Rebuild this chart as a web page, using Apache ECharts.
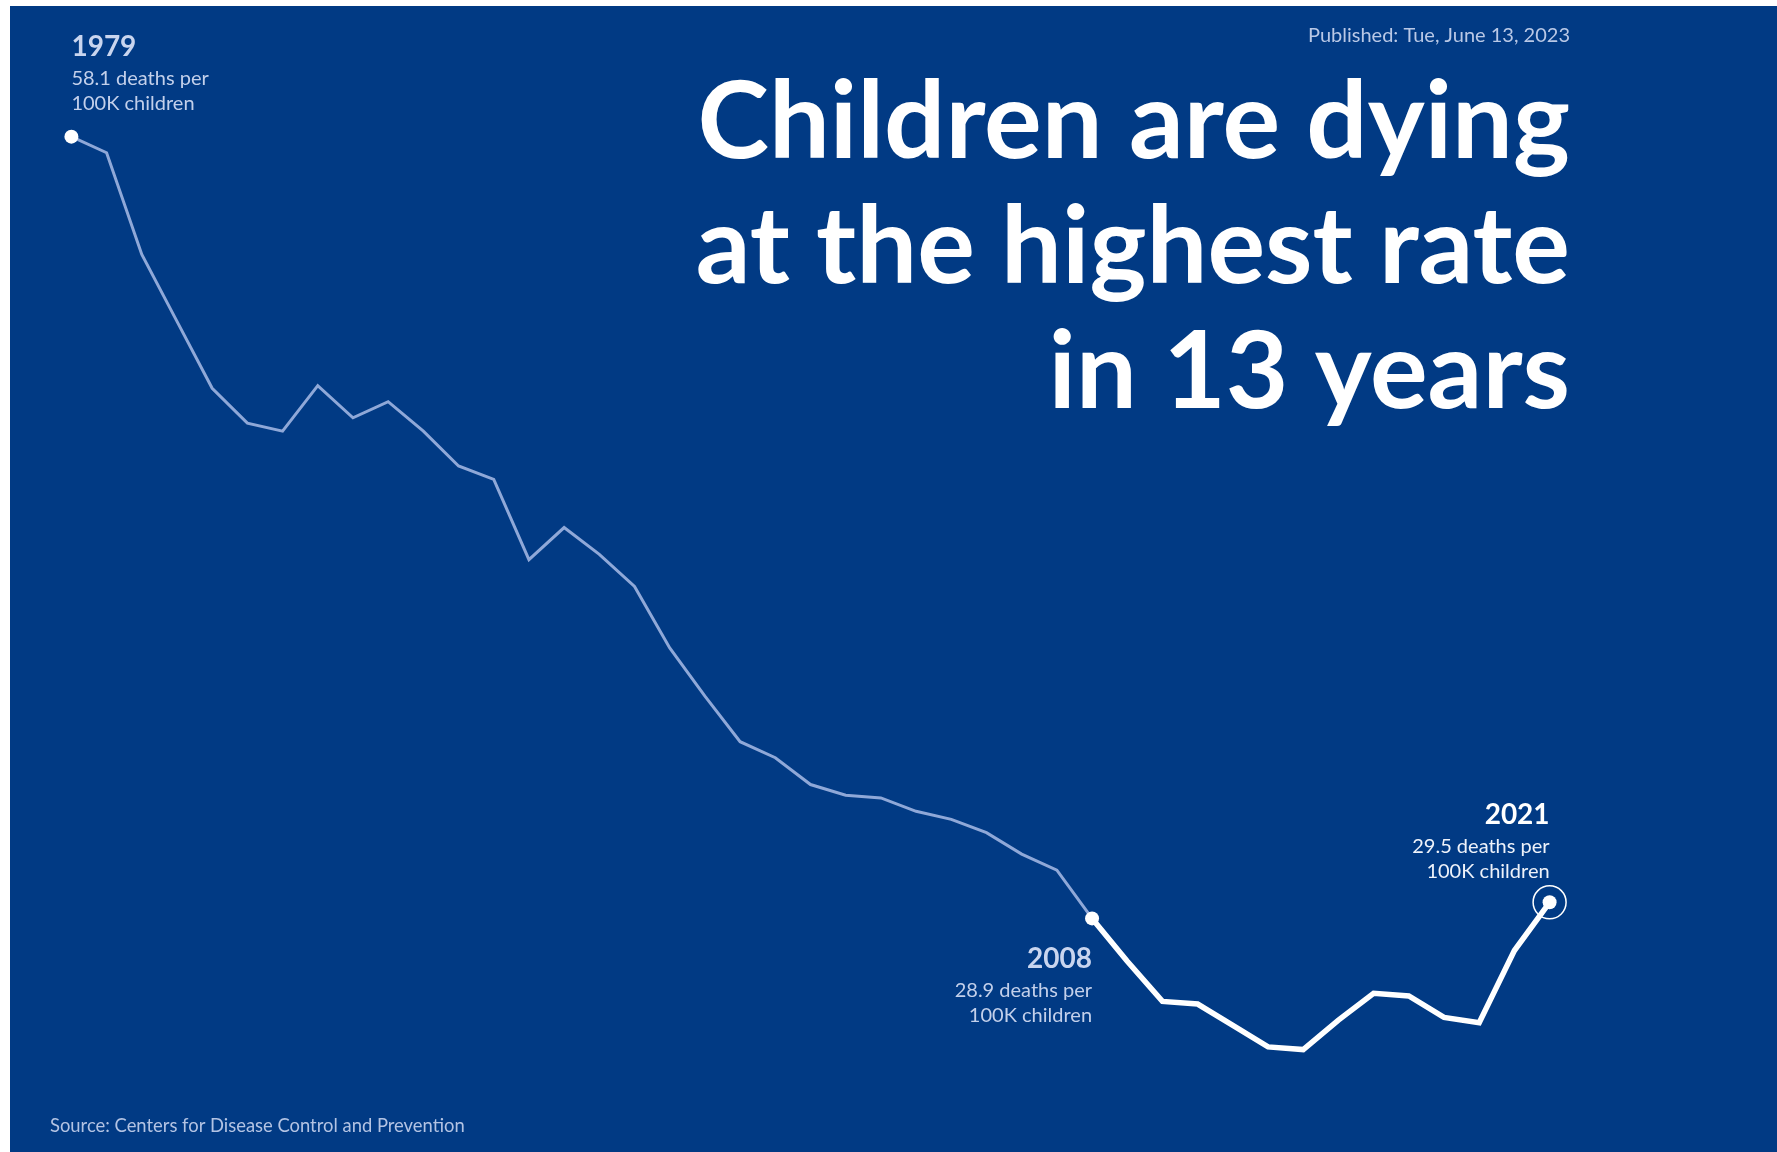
<!DOCTYPE html>
<html>
<head>
<meta charset="utf-8">
<script src="https://cdn.jsdelivr.net/npm/echarts@6/dist/echarts.min.js"></script>
<style>
  html, body { margin: 0; padding: 0; background: #ffffff; width: 1777px; height: 1152px; overflow: hidden; }
  #chart { position: absolute; left: 10px; top: 6px; width: 1767px; height: 1146px; background: #013a84; }
</style>
</head>
<body>
<div id="chart"></div>
<script>
// ---- Data ----
const years = ['1979','1980','1981','1982','1983','1984','1985','1986','1987','1988',
  '1989','1990','1991','1992','1993','1994','1995','1996','1997','1998',
  '1999','2000','2001','2002','2003','2004','2005','2006','2007','2008',
  '2009','2010','2011','2012','2013','2014','2015','2016','2017','2018',
  '2019','2020','2021'];
const deathRates = [58.1, 57.5, 53.7, 51.2, 48.7, 47.4, 47.1, 48.8, 47.6, 48.2,
  47.1, 45.8, 45.3, 42.3, 43.5, 42.5, 41.3, 39.0, 37.2, 35.5,
  34.9, 33.9, 33.5, 33.4, 32.9, 32.6, 32.1, 31.3, 30.7, 28.9,
  27.3, 25.8, 25.7, 24.9, 24.1, 24.0, 25.1, 26.1, 26.0, 25.2,
  25.0, 27.7, 29.5];
const splitYear = '2008';
const highlightYears = ['1979', '2008', '2021'];
const highlightLines = [
  ['58.1 deaths per', '100K children'],
  ['28.9 deaths per', '100K children'],
  ['29.5 deaths per', '100K children']
];
const titleLines = ['Children are dying', 'at the highest rate', 'in 13 years'];
const publishedText = 'Published: Tue, June 13, 2023';
const sourceText = 'Source: Centers for Disease Control and Prevention';

// ---- Build ----
const splitIdx = years.indexOf(splitYear);
const pastData = deathRates.map((v, i) => i <= splitIdx ? v : '-');
const recentData = deathRates.map((v, i) => i >= splitIdx ? v : '-');

const FONT = 'Lato, "Open Sans", sans-serif';
const labelCfg = [
  { position: 'top', align: 'left', verticalAlign: 'bottom', distance: 13, yc: '#c9d5ef', tc: '#c3d0eb' },
  { position: 'bottom', align: 'right', verticalAlign: 'top', distance: 15, yc: '#c9d5ef', tc: '#c3d0eb' },
  { position: 'top', align: 'right', verticalAlign: 'bottom', distance: 11, yc: '#ffffff', tc: '#eef2fa' }
];

const dotData = highlightYears.map((y, k) => {
  const c = labelCfg[k];
  return {
    value: [y, deathRates[years.indexOf(y)]],
    label: {
      show: true,
      position: c.position,
      align: c.align,
      verticalAlign: c.verticalAlign,
      distance: c.distance,
      formatter: '{y|' + y + '}\n' + highlightLines[k].map(t => '{t|' + t + '}').join('\n'),
      rich: {
        y: { fontFamily: FONT, fontWeight: 'bold', fontSize: 28, color: c.yc, lineHeight: 37, align: c.align },
        t: { fontFamily: FONT, fontSize: 20, color: c.tc, lineHeight: 25.5, align: c.align }
      }
    }
  };
});
const lastYear = highlightYears[highlightYears.length - 1];
const ringData = [[lastYear, deathRates[years.indexOf(lastYear)]]];

const chart = echarts.init(document.getElementById('chart'), null, { renderer: 'canvas' });
chart.setOption({
  animation: false,
  backgroundColor: '#013a84',
  grid: { left: 61.4, right: 227.4, top: 79.8, bottom: 48.9 },
  xAxis: {
    type: 'category', data: years, boundaryGap: false,
    axisLine: { show: false }, axisTick: { show: false }, axisLabel: { show: false }, splitLine: { show: false }
  },
  yAxis: {
    type: 'value', min: 22, max: 60,
    axisLine: { show: false }, axisTick: { show: false }, axisLabel: { show: false }, splitLine: { show: false }
  },
  series: [
    { type: 'line', data: pastData, symbol: 'none', silent: true,
      lineStyle: { color: '#8fa8d8', width: 3, join: 'miter' }, z: 2 },
    { type: 'line', data: recentData, symbol: 'none', silent: true,
      lineStyle: { color: '#ffffff', width: 5.5, join: 'miter' }, z: 3 },
    { type: 'scatter', data: ringData, symbol: 'circle', symbolSize: 33, silent: true,
      itemStyle: { color: 'rgba(0,0,0,0)', borderColor: '#ffffff', borderWidth: 1.5, opacity: 1 }, z: 4 },
    { type: 'scatter', data: dotData, symbol: 'circle', symbolSize: 14, silent: true,
      itemStyle: { color: '#ffffff', opacity: 1 }, z: 5 }
  ],
  graphic: [
    ...titleLines.map((t, i) => ({
      type: 'text', x: 1560, y: 63 + i * 125, silent: true,
      style: { text: t, font: 'bold 108px ' + FONT, fill: '#ffffff', align: 'right', verticalAlign: 'top', textAlign: 'right', textVerticalAlign: 'top' }
    })),
    { type: 'text', x: 1560, y: 30, silent: true,
      style: { text: publishedText, font: '20px ' + FONT, fill: '#b9c8e6', align: 'right', verticalAlign: 'middle', textAlign: 'right', textVerticalAlign: 'middle' } },
    { type: 'text', x: 40, y: 1120, silent: true,
      style: { text: sourceText, font: '18.4px ' + FONT, fill: '#b3c3e3', align: 'left', verticalAlign: 'middle', textAlign: 'left', textVerticalAlign: 'middle' } }
  ]
});
</script>
</body>
</html>
